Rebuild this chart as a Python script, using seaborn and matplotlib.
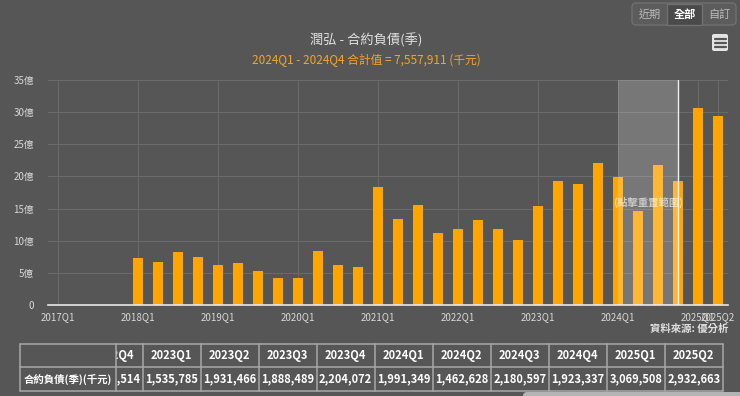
#!/usr/bin/env python3
"""潤弘 合約負債(季) bar chart, dark theme, with the clipped data table below."""

import matplotlib

matplotlib.use("Agg")
import matplotlib.pyplot as plt
import numpy as np
import seaborn as sns
from matplotlib.patches import FancyBboxPatch, Rectangle

quarters = [f"{y}Q{q}" for y in range(2017, 2026) for q in range(1, 5)][:34]
# 千元; 2017 has no reported value, 2018Q1-2022Q4 read off the bars
values = [
    0, 0, 0, 0,
    736000, 664000, 820000, 746000,
    627000, 653000, 534000, 415000,
    415000, 845000, 627000, 591000,
    1830000, 1337000, 1555000, 1120000,
    1190000, 1320000, 1190000, 1003514,
    1535785, 1931466, 1888489, 2204072,
    1991349, 1462628, 2180597, 1923337,
    3069508, 2932663,
]
highlight = ["2024Q1", "2024Q2", "2024Q3", "2024Q4"]
table_quarters = quarters[-11:]
y_ticks = [0, 5, 10, 15, 20, 25, 30, 35]
x_tick_labels = [q for q in quarters if q.endswith("Q1")] + ["2025Q2"]

BG = "#565656"
BAR = "#ffa500"
GRID = "#6b6b6b"
TXT = "#d8d8d8"

sns.set_theme(style="dark", rc={"axes.facecolor": BG, "figure.facecolor": BG})
plt.rcParams["font.family"] = ["Noto Sans CJK TC", "DejaVu Sans"]

W, H = 740, 396
fig = plt.figure(figsize=(W / 100, H / 100), dpi=100)

ax = fig.add_axes([48 / W, (H - 305) / H, 680 / W, 225 / H])
yi = np.array(values) / 1e5  # 億
sns.barplot(x=quarters, y=yi, order=quarters, color=BAR, saturation=1, width=0.5,
            linewidth=0, edgecolor="none", ax=ax)

ax.set_xlim(-0.5, len(quarters) - 0.5)
ax.set_ylim(0, 35)
ax.set_yticks(y_ticks)
ax.set_yticklabels(["0" if v == 0 else f"{v}億" for v in y_ticks], color=TXT, fontsize=7)
pos = [quarters.index(q) for q in x_tick_labels]
ax.set_xticks(pos)
ax.set_xticklabels(x_tick_labels, color=TXT, fontsize=7)
ax.tick_params(axis="both", length=0)
ax.tick_params(axis="x", pad=5)
ax.tick_params(axis="y", pad=10)
ax.set_xlabel("")
ax.set_ylabel("")
ax.grid(True, color=GRID, linewidth=0.7)
ax.set_axisbelow(True)
for side in ("top", "right", "left"):
    ax.spines[side].set_visible(False)
ax.spines["bottom"].set_color("#e8e8e8")
ax.spines["bottom"].set_linewidth(1.2)

h0, h1 = quarters.index(highlight[0]), quarters.index(highlight[-1])
ax.axvspan(h0, h1, color="white", alpha=0.2, lw=0, zorder=4)
ax.axvline(h1, color="#f0f0f0", linewidth=1, zorder=5)
ax.text((h0 + h1) / 2, 16, "(點擊重置範圍)", ha="center", va="center",
        color="white", alpha=0.6, fontsize=7.5, fontweight="bold", zorder=6)

total = sum(values[quarters.index(q)] for q in highlight)
fig.text(366 / W, 1 - 40 / H, "潤弘 - 合約負債(季)", ha="center", va="center",
         color="#e0e0e0", fontsize=9.5)
fig.text(366 / W, 1 - 60 / H, f"{highlight[0]} - {highlight[-1]} 合計值 = {total:,} (千元)",
         ha="center", va="center", color="#f5a623", fontsize=8.5)
fig.text(728 / W, 1 - 329 / H, "資料來源: 優分析", ha="right", va="center",
         color="#e0e0e0", fontsize=7.5, fontweight="bold")

# overlay in pixel coordinates for table and widgets
ov = fig.add_axes([0, 0, 1, 1], facecolor="none")
ov.set_xlim(0, W)
ov.set_ylim(H, 0)
ov.axis("off")

line_c = "#a8a8a8"
top, mid, bot = 343.5, 367, 391
col_w = 58
x_start = 142.7 - col_w
edges = [x_start + col_w * k for k in range(len(table_quarters) + 1)]
for y in (top, mid, bot):
    ov.plot([20, edges[-1]], [y, y], color=line_c, lw=1.1)
for x in edges[1:]:
    ov.plot([x, x], [top, bot], color=line_c, lw=1.1)
for i, q in enumerate(table_quarters):
    cx = (edges[i] + edges[i + 1]) / 2
    v = values[quarters.index(q)]
    ov.text(cx, (top + mid) / 2, q, ha="center", va="center", color="white",
            fontsize=8, fontweight="bold", zorder=2)
    ov.text(cx, (mid + bot) / 2, f"{v:,}", ha="center", va="center", color="white",
            fontsize=8, fontweight="bold", zorder=2)

# fixed label column covers the scrolled part of the table
ov.add_patch(Rectangle((0, top - 1), 116, bot - top + 2, facecolor=BG, edgecolor="none", zorder=3))
for y in (top, mid, bot):
    ov.plot([20, 116], [y, y], color=line_c, lw=1.1, zorder=4)
for x in (20, 116):
    ov.plot([x, x], [top, bot], color=line_c, lw=1.1, zorder=4)
ov.text(68, (mid + bot) / 2, "合約負債(季)(千元)", ha="center", va="center",
        color="white", fontsize=7.5, fontweight="bold", zorder=5)

# scrollbar
ov.add_patch(FancyBboxPatch((523, 392), 230, 10, boxstyle="round,pad=0,rounding_size=4",
                            facecolor="#b4b4b4", edgecolor="none", zorder=5))

# range buttons
ov.add_patch(FancyBboxPatch((632, 3), 104, 22, boxstyle="round,pad=0,rounding_size=4",
                            facecolor="#5c5c5c", edgecolor="#707070", lw=1, zorder=5))
ov.add_patch(Rectangle((667, 3.5), 35, 21, facecolor="#4a4a4a", edgecolor="#707070", lw=1, zorder=6))
for cx, label, col, fw in [(649.5, "近期", "#bcbcbc", "normal"), (684.5, "全部", "white", "bold"),
                          (719, "自訂", "#bcbcbc", "normal")]:
    ov.text(cx, 14.5, label, ha="center", va="center", color=col, fontsize=8, fontweight=fw, zorder=7)

# menu icon
ov.add_patch(FancyBboxPatch((712, 34), 16, 17, boxstyle="round,pad=0,rounding_size=2",
                            facecolor="#e4e4e4", edgecolor="none", zorder=5))
for y in (38.5, 42.5, 46.5):
    ov.plot([714.5, 725.5], [y, y], color="#555555", lw=1.6, zorder=6)

fig.savefig("out.png", dpi=100, facecolor=BG)
